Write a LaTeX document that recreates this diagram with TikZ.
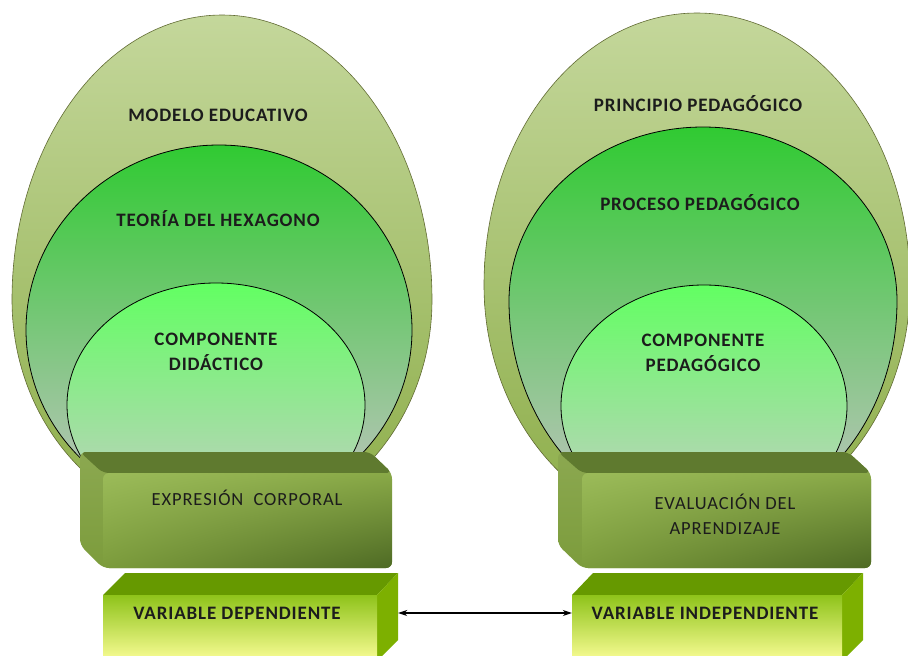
\documentclass[tikz,border=0pt]{standalone}
\usepackage{fontspec}
\setmainfont{Carlito}
\usepackage{tikz}
\usetikzlibrary{arrows.meta,shadings}

\definecolor{outerT}{HTML}{C4D79B}
\definecolor{outerB}{HTML}{8CAD48}
\definecolor{midT}{HTML}{30CA32}
\definecolor{midB}{HTML}{C4C4C4}
\definecolor{innT}{HTML}{62FF62}
\definecolor{innB}{HTML}{C9CBC9}
\definecolor{bevTop}{HTML}{5F7A2F}
\definecolor{bevUL}{HTML}{9BBB59}
\definecolor{bevUR}{HTML}{89A947}
\definecolor{bevLL}{HTML}{7C9C3C}
\definecolor{bevLR}{HTML}{4E6A24}
\definecolor{cubTop}{HTML}{669900}
\definecolor{cubSide}{HTML}{7DB000}
\definecolor{cubFrT}{HTML}{8EC31A}
\definecolor{cubFrB}{HTML}{FAFD96}
\definecolor{ink}{HTML}{1C1C1C}

% half-ellipse top, half-ellipse bottom
\newcommand{\eggpath}[5]{(#1-#3,#2) arc[start angle=180, end angle=0, x radius=#3pt, y radius=#4pt] arc[start angle=0, end angle=-180, x radius=#3pt, y radius=#5pt] -- cycle}

\begin{document}
\begin{tikzpicture}[x=1pt,y=-1pt,
            lbl/.style={font=\fontsize{19}{25}\selectfont\bfseries\addfontfeature{LetterSpace=4.5}, text=ink, align=center},
            boxlbl/.style={font=\fontsize{18.5}{25}\selectfont\addfontfeature{LetterSpace=5}, text=ink, align=center},
            ring/.style={draw=black, line width=0.8pt},
            outring/.style={top color=outerT, bottom color=outerB, draw=olive!70!green!60!black, line width=0.6pt},
            bevfront/.style={rounded corners=6pt, inner sep=0pt, minimum width=289pt, minimum height=95pt,
                upper left=bevUL, upper right=bevUR, lower left=bevLL, lower right=bevLR},
            bevside/.style={rounded corners=6pt, top color=bevUL!90!black, bottom color=bevLL},
            cubfront/.style={inner sep=0pt, minimum height=66pt, top color=cubFrT, bottom color=cubFrB}]
            \clip (0,0) rectangle (908,656);
            \fill[white] (0,0) rectangle (908,656);
            % left ellipses
            \shade[outring] \eggpath{222}{300}{210}{285}{228};
            \shade[top color=midT, bottom color=midB, ring] \eggpath{219}{330}{193}{185}{184};
            \shade[top color=innT, bottom color=innB, ring] (216,405) ellipse [x radius=149pt, y radius=122pt];
            % right ellipses
            \shade[outring] \eggpath{697}{285}{213}{272}{245};
            \shade[top color=midT, bottom color=midB, ring] \eggpath{703}{301}{194}{174}{222};
            \shade[top color=innT, bottom color=innB, ring] (704,406) ellipse [x radius=143pt, y radius=121pt];
            \node[lbl] (modelo) at (218,115) {MODELO EDUCATIVO};
            \node[lbl] (teoria) at (218,219) {TEORÍA DEL HEXAGONO};
            \node[lbl] (compdid) at (216,352) {COMPONENTE\\DIDÁCTICO};
            \node[lbl] (principio) at (698,104) {PRINCIPIO PEDAGÓGICO};
            \node[lbl] (proceso) at (700,203) {PROCESO PEDAGÓGICO};
            \node[lbl] (comped) at (703,353) {COMPONENTE\\PEDAGÓGICO};
            % bevel boxes
            \shade[bevside] (80,452) -- (370,452) -- (392,473) -- (392,568) -- (103,568) -- (80,545) -- cycle;
            \fill[bevTop, rounded corners=6pt] (80,452) -- (370,452) -- (392,473) -- (103,473) -- cycle;
            \node[bevfront] (expr) at (247.5,520.5) {};
            \node[boxlbl] (exprlbl) at (247,498) {EXPRESIÓN\ \ CORPORAL};
            \shade[bevside] (558,452) -- (848,452) -- (871,473) -- (871,568) -- (582,568) -- (558,545) -- cycle;
            \fill[bevTop, rounded corners=6pt] (558,452) -- (848,452) -- (871,473) -- (582,473) -- cycle;
            \node[bevfront] (evalu) at (726.5,520.5) {};
            \node[boxlbl] (evalulbl) at (725,514.5) {EVALUACIÓN DEL\\APRENDIZAJE};
            % variables
            \fill[cubTop] (103,595) -- (125,573) -- (398,573) -- (377,595) -- cycle;
            \fill[cubSide] (377,595) -- (398,573) -- (398,640) -- (377,661) -- cycle;
            \node[cubfront, minimum width=274pt] (vdep) at (240,628) {};
            \node[lbl] (vdeplbl) at (237,613) {VARIABLE DEPENDIENTE};
            \fill[cubTop] (572,595) -- (593,573) -- (863,573) -- (842,595) -- cycle;
            \fill[cubSide] (842,595) -- (863,573) -- (863,640) -- (842,661) -- cycle;
            \node[cubfront, minimum width=270pt] (vind) at (707,628) {};
            \node[lbl] (vindlbl) at (705,613) {VARIABLE INDEPENDIENTE};
            \draw[{Stealth[length=9pt,width=6pt]}-{Stealth[length=9pt,width=6pt]}, line width=1.1pt] ([xshift=21pt]vdep.east |- vdeplbl) -- (vind.west |- vindlbl);
        \end{tikzpicture}
\end{document}
